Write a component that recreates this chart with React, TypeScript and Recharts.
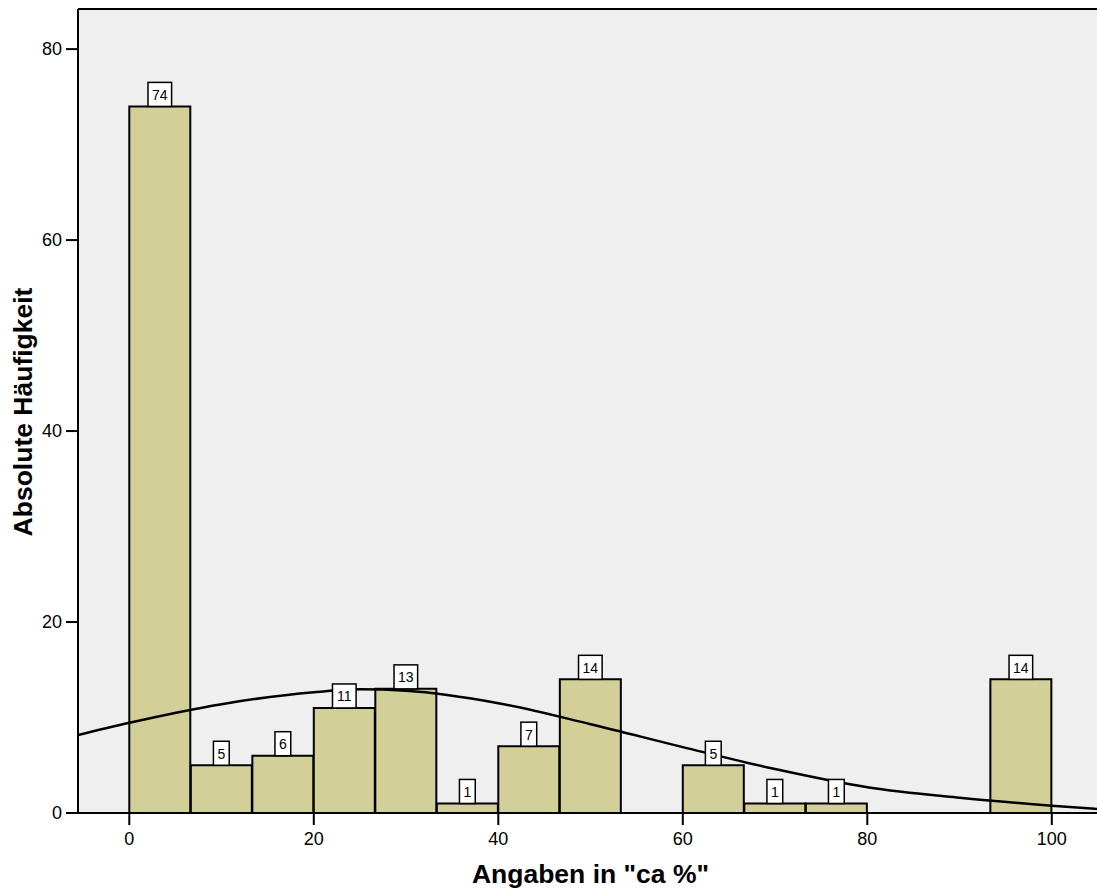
import { Bar, CartesianGrid, ComposedChart, LabelList, Line, ReferenceLine, XAxis, YAxis } from 'recharts';

// histogram bins (width 6.67) - centres and counts
const binCenters = [3.33, 10, 16.67, 23.33, 30, 36.67, 43.33, 50, 56.67, 63.33, 70, 76.67, 83.33, 90, 96.67];
const binCounts = [74, 5, 6, 11, 13, 1, 7, 14, 0, 5, 1, 1, 0, 0, 14];

// normal curve
const curveX = [-5.56, 0, 10, 20, 25, 30, 40, 50, 60, 70, 80, 90, 100, 104.9];
const curveY = [8.17, 9.45, 11.4, 12.65, 12.95, 12.8, 11.5, 9.3, 6.9, 4.6, 2.7, 1.6, 0.77, 0.42];

const xTicks = [0, 20, 40, 60, 80, 100];
const yTicks = [0, 20, 40, 60, 80];

const X_DOMAIN: [number, number] = [-5.56, 104.9];
const Y_DOMAIN: [number, number] = [0, 84.2];

const FONT = '"Liberation Sans", Arial, sans-serif';

const barData = binCenters.map((x, i) => ({ x, count: binCounts[i] }));
const curveData = curveX.map((x, i) => ({ x, y: curveY[i] }));

const CountLabel = (props: any) => {
  const { x, y, width, value } = props;
  if (!value) return null;
  const text = String(value);
  const w = text.length * 7.8 + 8;
  const cx = Number(x) + Number(width) / 2;
  const top = Number(y);
  return (
    <g>
      <rect x={cx - w / 2} y={top - 24} width={w} height={24} fill="#fff" stroke="#000" strokeWidth={1.5} />
      <text x={cx} y={top - 6.5} textAnchor="middle" fontSize={14} fontFamily={FONT} fill="#000">
        {text}
      </text>
    </g>
  );
};

const XTitle = (props: any) => {
  const vb = props.viewBox || { x: 78, y: 813, width: 1019, height: 78 };
  return (
    <text x={vb.x + vb.width / 2 + 3} y={883} textAnchor="middle" fontSize={26.5} fontWeight="bold" fontFamily={FONT} fill="#000">
      Angaben in "ca %"
    </text>
  );
};

const YTitle = (props: any) => {
  const vb = props.viewBox || { x: 0, y: 9, width: 78, height: 804 };
  const cy = vb.y + vb.height / 2 + 1;
  return (
    <text x={32} y={cy} transform={`rotate(-90, 32, ${cy})`} textAnchor="middle" fontSize={26.5} fontWeight="bold" fontFamily={FONT} fill="#000">
      Absolute Häufigkeit
    </text>
  );
};

export default function App() {
  const tickStyle = { fontSize: 18, fill: '#000', fontFamily: FONT };
  const lineStyle = { stroke: '#000', strokeWidth: 2 };
  return (
    <div style={{ position: 'absolute', left: 0, top: 0, background: '#fff' }}>
      <ComposedChart
        width={1097}
        height={891}
        data={barData}
        margin={{ top: 9, right: 0, left: 0, bottom: 0 }}
        barCategoryGap={0}
        barGap={0}
      >
        <CartesianGrid xAxisId="bins" fill="#efefef" horizontal={false} vertical={false} />
        <XAxis
          xAxisId="bins"
          dataKey="x"
          type="number"
          domain={X_DOMAIN}
          allowDataOverflow
          ticks={xTicks}
          height={78}
          tickSize={12}
          tickMargin={7}
          tick={tickStyle}
          axisLine={lineStyle}
          tickLine={lineStyle}
          label={XTitle}
        />
        <XAxis xAxisId="curve" dataKey="x" type="number" domain={X_DOMAIN} allowDataOverflow hide />
        <YAxis
          type="number"
          domain={Y_DOMAIN}
          allowDataOverflow
          ticks={yTicks}
          width={78}
          tickSize={12}
          tickMargin={4}
          tick={tickStyle}
          axisLine={lineStyle}
          tickLine={lineStyle}
          label={YTitle}
        />
        <ReferenceLine xAxisId="bins" y={Y_DOMAIN[1]} stroke="#000" strokeWidth={2} />
        <Bar xAxisId="bins" dataKey="count" fill="#d3cf98" stroke="#000" strokeWidth={2} isAnimationActive={false}>
          <LabelList dataKey="count" content={CountLabel} />
        </Bar>
        <Line
          xAxisId="curve"
          data={curveData}
          dataKey="y"
          type="monotone"
          stroke="#000"
          strokeWidth={2.5}
          dot={false}
          activeDot={false}
          isAnimationActive={false}
        />
      </ComposedChart>
    </div>
  );
}
